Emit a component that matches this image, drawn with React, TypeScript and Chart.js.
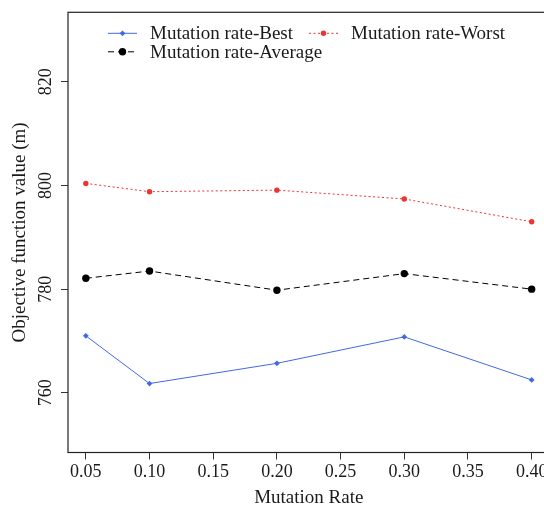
import React, { useEffect, useRef } from "react";
import { Chart, registerables } from "chart.js";

Chart.register(...registerables);

const mutationRates = [0.05, 0.1, 0.2, 0.3, 0.4];
const bestValues = [771.0, 761.8, 765.7, 770.8, 762.5];
const averageValues = [782.1, 783.5, 779.8, 783.0, 780.0];
const worstValues = [800.4, 798.8, 799.1, 797.4, 793.0];
const xTicks = [0.05, 0.1, 0.15, 0.2, 0.25, 0.3, 0.35, 0.4];
const yTicks = [760, 780, 800, 820];
const seriesLabels = ["Mutation rate-Best", "Mutation rate-Average", "Mutation rate-Worst"];
const xTitle = "Mutation Rate";
const yTitle = "Objective function value (m)";

const FONT = "'Liberation Serif', 'Times New Roman', serif";
const TEXT = "#1a1a1a";

const framePlugin = {
  id: "frame",
  afterDraw(chart: any) {
    const { ctx, chartArea: a } = chart;
    ctx.save();
    ctx.strokeStyle = "#222";
    ctx.lineWidth = 1.2;
    ctx.strokeRect(a.left, a.top, a.right - a.left, a.bottom - a.top);
    ctx.restore();
  },
};

const legendPlugin = {
  id: "insideLegend",
  afterDraw(chart: any) {
    const { ctx, chartArea: a } = chart;
    const ds = chart.data.datasets;
    // R legend, 2 columns filled column-wise: [Best, Average] | [Worst]
    const slots = [
      { i: 0, col: 0, row: 0 },
      { i: 1, col: 0, row: 1 },
      { i: 2, col: 1, row: 0 },
    ];
    const colX = [a.left + 40, a.left + 241];
    const rowY = [a.top + 21, a.top + 39.5];
    ctx.save();
    ctx.font = `19px ${FONT}`;
    ctx.textBaseline = "middle";
    ctx.fillStyle = TEXT;
    for (const s of slots) {
      const d = ds[s.i];
      const x0 = colX[s.col];
      const y = rowY[s.row];
      ctx.save();
      ctx.strokeStyle = d.borderColor;
      ctx.lineWidth = d.borderWidth;
      ctx.setLineDash(d.borderDash || []);
      ctx.beginPath();
      ctx.moveTo(x0, y);
      ctx.lineTo(x0 + 29, y);
      ctx.stroke();
      ctx.setLineDash([]);
      ctx.fillStyle = d.pointBackgroundColor;
      const r = d.pointRadius;
      ctx.beginPath();
      if (d.pointStyle === "rectRot") {
        ctx.moveTo(x0 + 14.5, y - r);
        ctx.lineTo(x0 + 14.5 + r, y);
        ctx.lineTo(x0 + 14.5, y + r);
        ctx.lineTo(x0 + 14.5 - r, y);
        ctx.closePath();
      } else {
        ctx.arc(x0 + 14.5, y, r, 0, Math.PI * 2);
      }
      ctx.fill();
      ctx.restore();
      ctx.fillText(d.label, x0 + 42, y + 1);
    }
    ctx.restore();
  },
};

function App() {
  const canvasRef = useRef<HTMLCanvasElement | null>(null);

  useEffect(() => {
    const canvas = canvasRef.current;
    if (!canvas) return;
    const mk = (vals: number[]) => mutationRates.map((x, k) => ({ x, y: vals[k] }));
    const chart = new Chart(canvas, {
      type: "line",
      data: {
        datasets: [
          {
            label: seriesLabels[0],
            data: mk(bestValues),
            borderColor: "#4169E1",
            backgroundColor: "#4169E1",
            pointBackgroundColor: "#4169E1",
            pointBorderColor: "#4169E1",
            borderWidth: 1,
            pointStyle: "rectRot",
            pointRadius: 2.9,
            pointBorderWidth: 0,
            tension: 0,
          },
          {
            label: seriesLabels[1],
            data: mk(averageValues),
            borderColor: "#000000",
            backgroundColor: "#000000",
            pointBackgroundColor: "#000000",
            pointBorderColor: "#000000",
            borderWidth: 1,
            borderDash: [6, 4],
            pointStyle: "circle",
            pointRadius: 3.7,
            pointBorderWidth: 0,
            tension: 0,
          },
          {
            label: seriesLabels[2],
            data: mk(worstValues),
            borderColor: "#EE3333",
            backgroundColor: "#EE3333",
            pointBackgroundColor: "#EE3333",
            pointBorderColor: "#EE3333",
            borderWidth: 1,
            borderDash: [2, 2.5],
            pointStyle: "circle",
            pointRadius: 2.7,
            pointBorderWidth: 0,
            tension: 0,
          },
        ],
      },
      options: {
        responsive: false,
        animation: false,
        devicePixelRatio: 1,
        layout: { padding: { left: 0, top: 10.5, right: 10.5, bottom: 0 } },
        plugins: {
          legend: { display: false },
          tooltip: { enabled: false },
        },
        scales: {
          x: {
            type: "linear",
            min: 0.036,
            max: 0.414,
            afterBuildTicks: (s: any) => {
              s.ticks = xTicks.map((v) => ({ value: v }));
            },
            afterFit: (s: any) => {
              s.height = 54.5;
            },
            border: { display: false },
            grid: {
              display: true,
              drawOnChartArea: false,
              drawTicks: true,
              tickLength: 7,
              color: "#333",
              lineWidth: 1,
            },
            ticks: {
              padding: 1.5,
              color: TEXT,
              font: { family: FONT, size: 18 },
              maxRotation: 0,
              minRotation: 0,
              autoSkip: false,
              callback: (v: any) => Number(v).toFixed(2),
            },
            title: {
              display: true,
              text: xTitle,
              color: TEXT,
              font: { family: FONT, size: 19 },
              padding: { top: 0, bottom: -2 },
            },
          },
          y: {
            type: "linear",
            min: 748.5,
            max: 833.4,
            afterBuildTicks: (s: any) => {
              s.ticks = yTicks.map((v) => ({ value: v }));
            },
            afterFit: (s: any) => {
              s.width = 68;
            },
            border: { display: false },
            grid: {
              display: true,
              drawOnChartArea: false,
              drawTicks: true,
              tickLength: 7,
              color: "#333",
              lineWidth: 1,
            },
            ticks: {
              padding: 1.5,
              color: TEXT,
              font: { family: FONT, size: 18 },
              minRotation: 90,
              maxRotation: 90,
              crossAlign: "center",
              autoSkip: false,
              callback: (v: any) => String(v),
            },
            title: {
              display: true,
              text: yTitle,
              color: TEXT,
              font: { family: FONT, size: 19 },
              padding: { top: 8.5, bottom: 0 },
            },
          },
        },
      },
      plugins: [framePlugin, legendPlugin],
    } as any);
    return () => chart.destroy();
  }, []);

  return (
    <div
      style={{
        position: "fixed",
        left: 0,
        top: 0,
        width: 544,
        height: 507,
        overflow: "hidden",
        background: "#fff",
      }}
    >
      <canvas ref={canvasRef} width={560} height={507} style={{ display: "block" }} />
    </div>
  );
}

export default App;
